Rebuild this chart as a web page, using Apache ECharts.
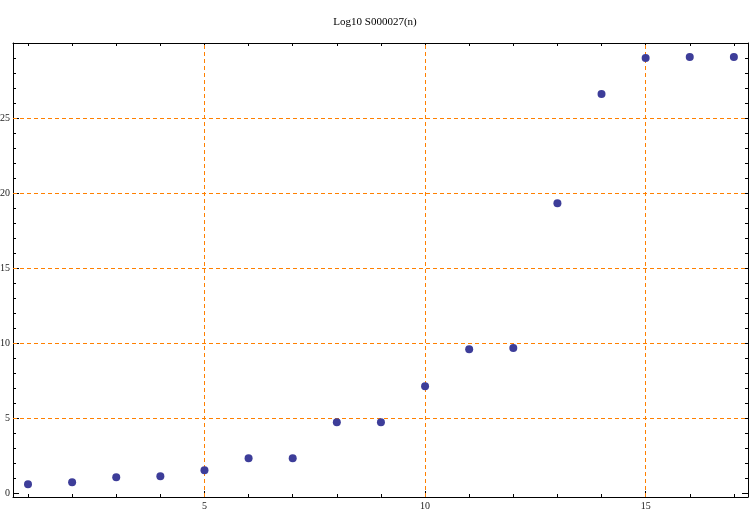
<!DOCTYPE html>
<html>
<head>
<meta charset="utf-8">
<script src="https://cdn.jsdelivr.net/npm/echarts@6/dist/echarts.min.js"></script>
<style>html,body{margin:0;padding:0;background:#fff}#c{width:750px;height:512px}</style>
</head>
<body>
<div id="c"></div>
<script>
var nValues = [1,2,3,4,5,6,7,8,9,10,11,12,13,14,15,16,17];
var logValues = [0.60,0.73,1.07,1.13,1.53,2.33,2.33,4.73,4.73,7.13,9.60,9.67,19.33,26.60,29.00,29.07,29.07];
var xMinorTicks = [1,2,3,4,5,6,7,8,9,10,11,12,13,14,15,16,17];
var xMajorTicks = [5,10,15];
var yMinorTicks = [0,1,2,3,4,5,6,7,8,9,10,11,12,13,14,15,16,17,18,19,20,21,22,23,24,25,26,27,28,29];
var yMajorTicks = [0,5,10,15,20,25];
var gridX = [5,10,15];
var gridY = [5,10,15,20,25];
var titleText = 'Log10 S000027(n)';

var FONT = 'Liberation Serif';
var points = nValues.map(function(n,i){return [n, logValues[i]];});
var xRange = {min:0.66, max:17.32};
var yRange = {min:-0.25, max:30};

function xAx(pos, ticks, len, labels, line){
  return {type:'value', position:pos, min:xRange.min, max:xRange.max,
    axisLine:{show:line, onZero:false, lineStyle:{color:'#000', width:1}},
    axisTick:{show:true, inside:true, length:len, customValues:ticks, lineStyle:{color:'#000', width:1}},
    axisLabel:{show:!!labels, customValues:labels||[], color:'#222', fontFamily:FONT, fontSize:10, margin:4},
    splitLine:{show:false}};
}
function yAx(pos, ticks, len, labels, line){
  return {type:'value', position:pos, min:yRange.min, max:yRange.max,
    axisLine:{show:line, onZero:false, lineStyle:{color:'#000', width:1}},
    axisTick:{show:true, inside:true, length:len, customValues:ticks, lineStyle:{color:'#000', width:1}},
    axisLabel:{show:!!labels, customValues:labels||[], color:'#222', fontFamily:FONT, fontSize:10, margin:3},
    splitLine:{show:false}};
}

var markData = gridX.map(function(v){return {xAxis:v};}).concat(gridY.map(function(v){return {yAxis:v};}));

var chart = echarts.init(document.getElementById('c'), null, {renderer:'canvas'});
chart.setOption({
  animation:false,
  backgroundColor:'#fff',
  title:{text:titleText, left:'center', top:12, textStyle:{fontFamily:FONT, fontSize:11, fontWeight:'normal', color:'#000'}},
  grid:{left:13, right:2, top:43, bottom:15, containLabel:false, outerBoundsMode:'none'},
  xAxis:[
    xAx('bottom', xMinorTicks, 3, xMajorTicks, true),
    xAx('top', xMinorTicks, 3, null, true),
    xAx('bottom', xMajorTicks, 6, null, false),
    xAx('top', xMajorTicks, 6, null, false)
  ],
  yAxis:[
    yAx('left', yMinorTicks, 3, yMajorTicks, true),
    yAx('right', yMinorTicks, 3, null, true),
    yAx('left', yMajorTicks, 6, null, false),
    yAx('right', yMajorTicks, 6, null, false)
  ],
  series:[{
    type:'scatter', xAxisIndex:0, yAxisIndex:0,
    data:points, symbol:'circle', symbolSize:8,
    itemStyle:{color:'#3d3d99', opacity:1},
    z:5,
    markLine:{silent:true, symbol:['none','none'], label:{show:false},
      lineStyle:{color:'#ff8000', type:[4,3], width:1, opacity:1},
      data:markData}
  }]
});
</script>
</body>
</html>
